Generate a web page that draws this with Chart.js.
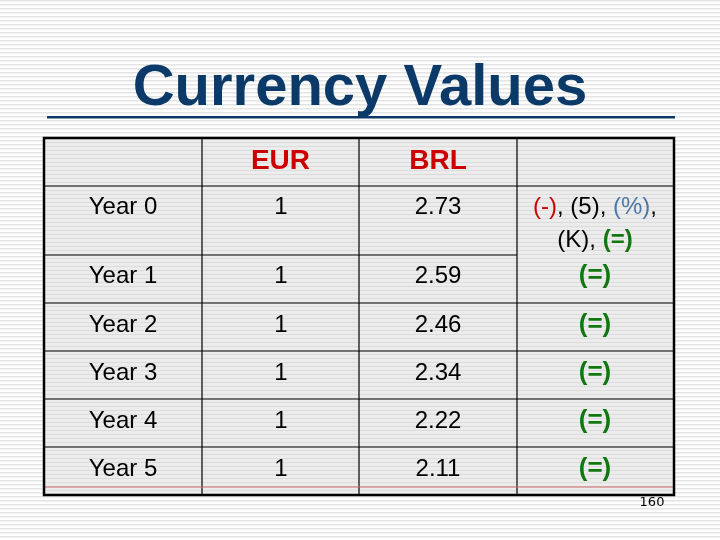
<!DOCTYPE html>
<html><head><meta charset="utf-8">
<script src="https://cdn.jsdelivr.net/npm/chart.js@4"></script>
<style>html,body{margin:0;padding:0;background:#fff}#w{width:720px;height:540px}</style>
</head><body><div id="w"><canvas id="c" width="720" height="540"></canvas></div>
<script>
const title = "Currency Values";
const headers = ["", "EUR", "BRL", ""];
const years = ["Year 0","Year 1","Year 2","Year 3","Year 4","Year 5"];
const eur = [1,1,1,1,1,1];
const brl = ["2.73","2.59","2.46","2.34","2.22","2.11"];
const pageNo = "160";
const colX = [44, 202, 359, 517, 674];
const rowY = [138, 186, 255, 303, 351, 399, 447, 495];

const tablePlugin = {
  id: 'tbl',
  beforeDraw(chart) {
    const ctx = chart.ctx, xs = chart.scales.x, ys = chart.scales.y;
    const X = v => xs.getPixelForValue(v), Y = v => ys.getPixelForValue(v);
    ctx.save();
    ctx.fillStyle = '#fff'; ctx.fillRect(0,0,720,540);
    ctx.fillStyle = '#e4e4e4';
    for (let y = 0; y < 540; y += 4) ctx.fillRect(0, y, 720, 1.5);
    ctx.fillStyle = '#ececec';
    ctx.fillRect(X(colX[0]), Y(rowY[0]), X(colX[4]) - X(colX[0]), Y(rowY[7]) - Y(rowY[0]));
    ctx.fillStyle = '#dcdcdc';
    for (let y = rowY[0]; y < rowY[7]; y += 4) ctx.fillRect(X(colX[0]), Y(y), X(colX[4]) - X(colX[0]), 1);
    ctx.fillStyle = '#0b3a68';
    ctx.font = 'bold 58px "Liberation Sans", Arial';
    ctx.textAlign = 'center'; ctx.textBaseline = 'alphabetic';
    ctx.fillText(title, X(360), Y(105));
    ctx.fillRect(X(47), Y(116), X(675) - X(47), 2.5);
    ctx.strokeStyle = '#000'; ctx.lineWidth = 1.2;
    for (let i = 1; i < 4; i++) { ctx.beginPath(); ctx.moveTo(X(colX[i]), Y(rowY[0])); ctx.lineTo(X(colX[i]), Y(rowY[7])); ctx.stroke(); }
    for (let j = 1; j < 7; j++) { if (j===2) continue; ctx.beginPath(); ctx.moveTo(X(colX[0]), Y(rowY[j])); ctx.lineTo(X(colX[4]), Y(rowY[j])); ctx.stroke(); }
    ctx.beginPath(); ctx.moveTo(X(colX[0]), Y(rowY[2])); ctx.lineTo(X(colX[3]), Y(rowY[2])); ctx.stroke();
    ctx.strokeStyle = '#cc6666'; ctx.lineWidth = 1;
    ctx.beginPath(); ctx.moveTo(X(colX[0]), Y(487)); ctx.lineTo(X(colX[4]), Y(487)); ctx.stroke();
    ctx.strokeStyle = '#000'; ctx.lineWidth = 2.5;
    ctx.strokeRect(X(colX[0]), Y(rowY[0]), X(colX[4]) - X(colX[0]), Y(rowY[7]) - Y(rowY[0]));
    ctx.fillStyle = '#cc0000'; ctx.font = 'bold 28px "Liberation Sans", Arial'; ctx.textBaseline = 'middle';
    for (let i = 0; i < 4; i++) if (headers[i]) ctx.fillText(headers[i], X((colX[i]+colX[i+1])/2), Y(161));
    ctx.font = '24px "Liberation Sans", Arial'; ctx.fillStyle = '#000';
    const cy = [207,276,325,373,421,469];
    for (let r = 0; r < 6; r++) {
      ctx.fillStyle = '#000'; ctx.textAlign = 'center';
      ctx.fillText(years[r], X(123), Y(cy[r]));
      ctx.fillText(String(eur[r]), X(281), Y(cy[r]));
      ctx.fillText(brl[r], X(438), Y(cy[r]));
      if (r > 0) {
        ctx.font = 'bold 26px "Liberation Sans", Arial'; ctx.fillStyle = '#117711';
        ctx.fillText('(=)', X(595), Y(cy[r])); ctx.font = '24px "Liberation Sans", Arial';
      }
    }
    const drawParts = (parts, cx, y) => {
      let w = 0; parts.forEach(p => { ctx.font = p[2]; w += ctx.measureText(p[0]).width; });
      let x = X(cx) - w/2; ctx.textAlign = 'left';
      parts.forEach(p => { ctx.font = p[2]; ctx.fillStyle = p[1]; ctx.fillText(p[0], x, Y(y)); x += ctx.measureText(p[0]).width; });
    };
    const n = '24px "Liberation Sans", Arial', b = 'bold 24px "Liberation Sans", Arial';
    drawParts([['(-)','#cc0000',n],[', (5), ','#000',n],['(%)','#4a78a8',n],[',','#000',n]], 595, 207);
    drawParts([['(K), ','#000',n],['(=)','#117711',b]], 595, 240);
    ctx.textAlign = 'center'; ctx.fillStyle = '#000'; ctx.font = '13px "DejaVu Sans", sans-serif';
    ctx.fillText(pageNo, X(652), Y(503));
    ctx.restore();
  }
};

new Chart(document.getElementById('c'), {
  type: 'scatter',
  data: { datasets: [{ data: [], pointRadius: 0 }] },
  options: {
    responsive: false, animation: false, events: [],
    layout: { padding: 0 },
    plugins: { legend: { display: false }, tooltip: { enabled: false } },
    scales: {
      x: { type: 'linear', min: 0, max: 720, display: false },
      y: { type: 'linear', min: 0, max: 540, reverse: true, display: false }
    }
  },
  plugins: [tablePlugin]
});
</script></body></html>
